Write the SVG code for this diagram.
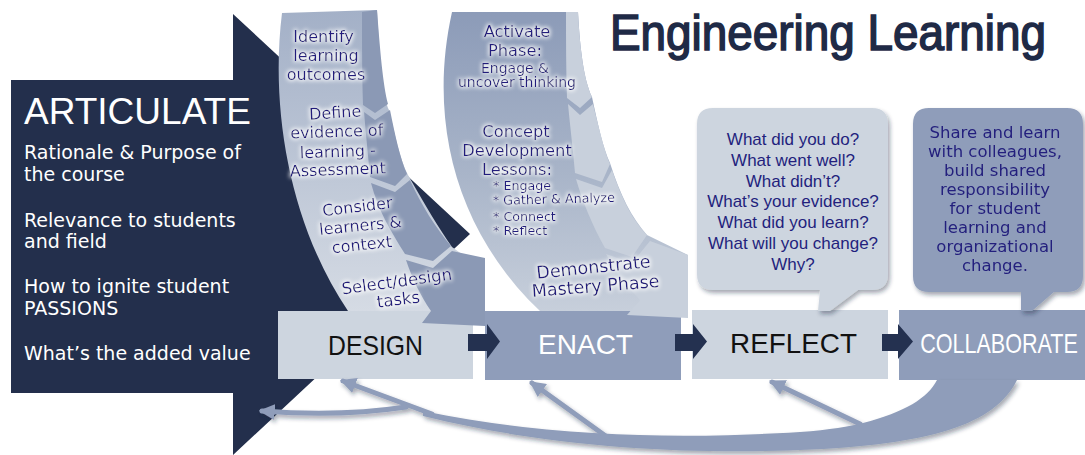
<svg xmlns="http://www.w3.org/2000/svg" width="1085" height="455" viewBox="0 0 1085 455">
<defs>
<style>
.navy{fill:#232f4c}
.lt{fill:#cdd5df}
.md{fill:#8f9dba}
.t{font-family:"DejaVu Sans","Liberation Sans",sans-serif;fill:#231f7d}
.w{font-family:"DejaVu Sans","Liberation Sans",sans-serif;fill:#ffffff}
.lbl{font-family:"Liberation Sans",Arial,sans-serif;font-size:28px}
.q{font-family:"Liberation Sans",Arial,sans-serif;font-size:17px;fill:#231f7d}
.dch{fill:#8b99b5}
.ech{fill:#c8d0dc}
.ln{fill:none;stroke:#8f9dba;stroke-width:5;stroke-linecap:round}
.bx{fill:#243150}
</style>
<linearGradient id="gD" x1="0" y1="0" x2="0" y2="1">
<stop offset="0" stop-color="#a3b0c7"/>
<stop offset="1" stop-color="#d5dbe4"/>
</linearGradient>
<linearGradient id="gE" x1="0" y1="0" x2="0" y2="1">
<stop offset="0" stop-color="#8c9bb8"/>
<stop offset="0.55" stop-color="#a9b5c9"/>
<stop offset="1" stop-color="#c7cfdb"/>
</linearGradient>
<marker id="ah" viewBox="0 0 10 10" refX="8" refY="5" markerWidth="3.2" markerHeight="3.2" orient="auto">
<path d="M0,0 L10,5 L0,10 z" fill="#8f9dba"/>
</marker>
<filter id="sh" x="-10%" y="-10%" width="130%" height="130%">
<feDropShadow dx="2" dy="3" stdDeviation="2" flood-color="#1c2740" flood-opacity="0.4"/>
</filter>
<filter id="glow" x="-20%" y="-40%" width="140%" height="180%">
<feMorphology in="SourceAlpha" operator="dilate" radius="1.2" result="d"/>
<feGaussianBlur in="d" stdDeviation="2.2" result="b"/>
<feFlood flood-color="#ffffff" flood-opacity="0.9"/>
<feComposite in2="b" operator="in" result="g"/>
<feMerge><feMergeNode in="g"/><feMergeNode in="SourceGraphic"/></feMerge>
</filter>
</defs>

<rect width="1085" height="455" fill="#ffffff"/>

<g id="title">
<text x="610" y="50" font-family="Liberation Sans, Arial, sans-serif" font-size="50" fill="#1f2a46" stroke="#1f2a46" stroke-width="1.6" textLength="436" lengthAdjust="spacingAndGlyphs">Engineering Learning</text>
</g>

<g id="articulate">
<polygon class="navy" points="11,80 233,80 233,14 470,234 233,455 233,393 11,393"/>
<text x="24" y="124" font-family="Liberation Sans, Arial, sans-serif" font-size="37" fill="#ffffff">ARTICULATE</text>
<text class="w" font-size="19">
<tspan x="24" y="159">Rationale &amp; Purpose of</tspan>
<tspan x="24" y="181">the course</tspan>
<tspan x="24" y="227">Relevance to students</tspan>
<tspan x="24" y="248">and field</tspan>
<tspan x="24" y="293">How to ignite student</tspan>
<tspan x="24" y="315">PASSIONS</tspan>
<tspan x="24" y="360">What’s the added value</tspan>
</text>
</g>

<g id="design">
<rect class="lt" x="278" y="311" width="195" height="68"/>
<text class="lbl" x="375.5" y="355" text-anchor="middle" fill="#111111" textLength="95" lengthAdjust="spacingAndGlyphs">DESIGN</text>
</g>

<g id="enact">
<rect class="md" x="485" y="311" width="196" height="69"/>
<text class="lbl" x="585.5" y="354" text-anchor="middle" fill="#ffffff" textLength="95" lengthAdjust="spacingAndGlyphs">ENACT</text>
</g>

<g id="design-steps">
<path fill="url(#gD)" d="M282,13 L377,10 C380,70 384,100 389,110 C395,135 400,160 408,175 C425,205 440,230 452,247 L470,260 L440,311 L348,311 C290,225 270,110 282,13 Z"/>
<path class="dch" d="M362,12 L377,10 C380,50 383,85 388,104 L375,113 L363,105 C362,70 362,40 362,12 Z"/>
<path class="dch" d="M364,112 L375,120 L390,110 C395,135 400,158 407,174 L395,186 L370,177 C368,155 366,135 364,112 Z"/>
<path class="dch" d="M371,183 L395,192 L410,180 C421,205 436,228 451,246 L433,261 L405,254 C390,230 378,210 371,183 Z"/>
<path class="dch" d="M406,260 L433,268 L452,251 L485,258 L485,326 L422,323 L431,311 C420,295 412,278 406,260 Z"/>
<g class="t" font-size="16" text-anchor="middle" filter="url(#glow)">
<text x="323.5" y="42">Identify</text>
<text x="326" y="61">learning</text>
<text x="326" y="80">outcomes</text>
<text x="335.5" y="118" transform="rotate(-3.7 335.5 118)">Define</text>
<text x="337" y="137" transform="rotate(-2 337 137)">evidence of</text>
<text x="338" y="157" transform="rotate(-2 338 157)">learning -</text>
<text x="338" y="175" transform="rotate(-2 338 175)">Assessment</text>
<text x="358" y="212" transform="rotate(-7 358 212)">Consider</text>
<text x="361" y="231" transform="rotate(-5.6 361 231)">learners &amp;</text>
<text x="362.5" y="250" transform="rotate(-6 362.5 250)">context</text>
<text x="397.5" y="287" font-size="16.5" transform="rotate(-7.7 397.5 287)">Select/design</text>
<text x="399" y="305" font-size="16.5" transform="rotate(-7 399 305)">tasks</text>
</g>
</g>

<g id="enact-steps">
<path fill="url(#gE)" d="M452,12 L578,12 C580,50 584,80 592,97 C598,125 603,148 610,163 C620,195 632,218 647,235 L688,255 L688,311 L540,311 C455,230 428,120 452,12 Z"/>
<path class="ech" d="M566,12 L578,12 C580,50 584,80 592,97 L580,108 L567,98 C566,70 566,40 566,12 Z"/>
<path class="ech" d="M568,104 L580,115 L593,104 C599,128 604,150 610,164 L602,182 L575,173 C573,150 570,125 568,104 Z"/>
<path class="ech" d="M576,179 L602,188 L612,170 C622,200 634,222 647,235 L632,257 L605,248 C592,225 582,200 576,179 Z"/>
<path class="ech" d="M606,254 L632,263 L650,241 L688,255 L688,318 L627,315 L640,300 C625,285 614,270 606,254 Z"/>
<g class="t" text-anchor="middle" filter="url(#glow)">
<text x="517" y="37" font-size="16.3">Activate</text>
<text x="515" y="56" font-size="16.3">Phase:</text>
<text x="515" y="73" font-size="14">Engage &amp;</text>
<text x="517" y="87" font-size="14">uncover thinking</text>
<text x="516" y="137" font-size="16.3">Concept</text>
<text x="517" y="156" font-size="16.3">Development</text>
<text x="517" y="175" font-size="16.3">Lessons:</text>
<text x="594" y="273" font-size="17.5" transform="rotate(-5.8 594 273)">Demonstrate</text>
<text x="596" y="292" font-size="17.5" transform="rotate(-4.5 596 292)">Mastery Phase</text>
</g>
<g class="t" font-size="12.7" filter="url(#glow)">
<text x="493" y="190">* Engage</text>
<text x="493" y="205" transform="rotate(-1.5 493 205)">* Gather &amp; Analyze</text>
<text x="493" y="221">* Connect</text>
<text x="493" y="235">* Reflect</text>
</g>
</g>

<g id="reflect">
<rect class="lt" x="692" y="310" width="196" height="69"/>
<text class="lbl" x="793.5" y="353" text-anchor="middle" fill="#111111" textLength="127" lengthAdjust="spacingAndGlyphs">REFLECT</text>
</g>

<g id="collaborate">
<rect class="md" x="899" y="310" width="186" height="70"/>
<text class="lbl" x="0" y="0" text-anchor="middle" fill="#ffffff" transform="translate(999 353) scale(0.77 1)">COLLABORATE</text>
</g>

<g id="reflect-questions">
<path class="lt" filter="url(#sh)" d="M713,108 H872 Q888,108 888,124 V274 Q888,290 872,290 H858 L830,311 H818 L820,290 H713 Q697,290 697,274 V124 Q697,108 713,108 Z"/>
<g class="q" text-anchor="middle">
<text x="793" y="145">What did you do?</text>
<text x="793" y="166">What went well?</text>
<text x="793" y="187">What didn’t?</text>
<text x="793" y="207">What’s your evidence?</text>
<text x="793" y="228">What did you learn?</text>
<text x="793" y="249">What will you change?</text>
<text x="793" y="270">Why?</text>
</g>
</g>

<g id="collaborate-note">
<path class="md" filter="url(#sh)" d="M929,108 H1067 Q1083,108 1083,124 V276 Q1083,292 1067,292 H1054 L1032,311 H1021 L1021,292 H929 Q913,292 913,276 V124 Q913,108 929,108 Z"/>
<g class="t" font-size="16.5" text-anchor="middle">
<text x="995" y="138">Share and learn</text>
<text x="995" y="157">with colleagues,</text>
<text x="995" y="176">build shared</text>
<text x="995" y="195">responsibility</text>
<text x="995" y="214">for student</text>
<text x="995" y="233">learning and</text>
<text x="995" y="252">organizational</text>
<text x="995" y="271">change.</text>
</g>
</g>

<g id="connectors">
<polygon class="bx" points="468,334 487,334 487,324 500,341.5 487,359 487,351 468,351"/>
<polygon class="bx" points="675,334 693,334 693,324 707,341.5 693,359 693,351 675,351"/>
<polygon class="bx" points="882,334 898,334 898,324 913,341.5 898,359 898,351 882,351"/>
<g filter="url(#sh)">
<path fill="#8f9dba" d="M1017,380 C995,425 930,445 800,450 C700,454 560,450 423,416 L423,411 C560,440 700,438 800,432 C830,430 850,426 863,423 C905,412 928,398 937,380 Z"/>
<path class="ln" marker-end="url(#ah)" d="M860,424 L772,382"/>
<path class="ln" marker-end="url(#ah)" d="M607,437 L532,383"/>
<path class="ln" marker-end="url(#ah)" d="M432,414 L343,381"/>
<path class="ln" marker-end="url(#ah)" d="M406,407 Q340,417 262,411"/>
</g>
</g>
</svg>
